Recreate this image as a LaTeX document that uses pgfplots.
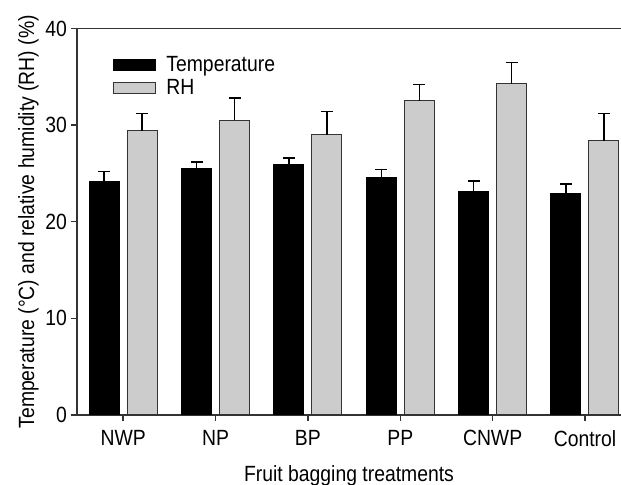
\documentclass[border=0pt]{standalone}
\usepackage{pgfplots}
\usepackage{pgfplotstable}
\pgfplotsset{compat=1.18}
\usepackage{fontspec}
\setmainfont{Liberation Sans}[FakeStretch=0.88]

\definecolor{rhgray}{HTML}{CCCCCC}
\definecolor{axisgray}{HTML}{333333}

\pgfplotstableread{
x temp temperr rh rherr
0 24.2 1.0 29.4 1.8
1 25.5 0.7 30.5 2.3
2 25.9 0.7 29.0 2.4
3 24.6 0.8 32.5 1.7
4 23.1 1.1 34.3 2.2
5 22.9 1.0 28.4 2.8
}\datatable

\pgfplotsset{
  legbox/.style={legend image code/.code={%
    \draw[##1] (0pt,-2.75pt) rectangle (21pt,2.75pt);
    \path (24pt,0pt);}},
}

\begin{document}
\begin{tikzpicture}[font=\fontsize{11}{13}\selectfont]
\begin{axis}[
    scale only axis,
    width=272pt, height=193.25pt,
    xmin=-0.5, xmax=5.39,
    ymin=0, ymax=40,
    ytick={0,10,20,30,40},
    xtick={0,1,2,3,4,5},
    xticklabels={NWP,NP,BP,PP,CNWP,Control},
    axis x line*=bottom, axis y line*=left,
    axis line style={axisgray, line width=0.7pt},
    tick style={axisgray, line width=0.7pt},
    tick align=outside, major tick length=3pt,
    /pgf/number format/assume math mode=true,
    yticklabel style={xshift=1.5pt},
    xticklabel style={yshift=-1pt},
    ybar=4pt, bar width=15pt,
    clip=false,
    xlabel={Fruit bagging treatments},
    xlabel style={yshift=-3pt},
    ylabel={Temperature (°C) and relative humidity (RH) (\%)},
    ylabel style={yshift=-3.5pt},
    legend style={at={(axis description cs:0,1)}, anchor=north west,
      xshift=15pt, yshift=-9.5pt, draw=none, fill=none,
      cells={anchor=west}, row sep=-1.5pt},
    ]
\addplot[fill=black, draw=black, line width=0.5pt, legbox,
  error bars/.cd, y dir=plus, y explicit,
  error bar style={black, line width=0.7pt},
  error mark options={black, rotate=90, mark size=3pt, line width=0.7pt}]
  table[x=x, y=temp, y error=temperr]{\datatable};
\addplot[fill=rhgray, draw=black!80, line width=0.5pt, legbox,
  error bars/.cd, y dir=plus, y explicit,
  error bar style={black, line width=0.7pt},
  error mark options={black, rotate=90, mark size=3pt, line width=0.7pt}]
  table[x=x, y=rh, y error=rherr]{\datatable};
\legend{Temperature, RH}
\draw[axisgray, line width=0.7pt] (rel axis cs:0,1) -- (rel axis cs:1,1);
\coordinate (sw) at (rel axis cs:0,0);
\coordinate (ne) at (rel axis cs:1,1);
\end{axis}
\pgfresetboundingbox
\path[use as bounding box] ([xshift=-38.5pt,yshift=-35pt]sw) rectangle ([yshift=14.25pt]ne);
\end{tikzpicture}
\end{document}
